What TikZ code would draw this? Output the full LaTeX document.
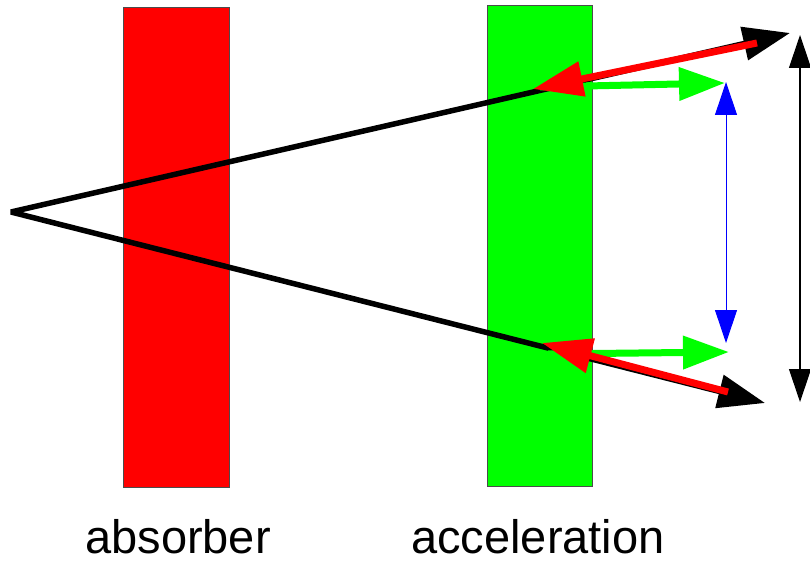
\documentclass[tikz,border=0pt]{standalone}
\usepackage{fontspec}
\setmainfont{Liberation Sans}
\usetikzlibrary{arrows.meta}
\definecolor{limeg}{RGB}{0,255,0}
\tikzset{
  slab/.style={draw=black!70, line width=0.8pt},
  ray/.style={line width=5.5pt, black},
  redarr/.style={red, line width=7pt, -{Triangle[length=50pt,width=34pt]}},
  greenarr/.style={limeg, line width=7pt, -{Triangle[length=46pt,width=32pt]}},
  bluearr/.style={blue, line width=1pt, {Triangle[length=33pt,width=22pt]}-{Triangle[length=33pt,width=22pt]}},
  blackdim/.style={black, line width=1.3pt, {Triangle[length=33pt,width=22pt]}-{Triangle[length=33pt,width=22pt]}},
  lbl/.style={font=\fontsize{47}{50}\selectfont, inner sep=0pt}
}
\begin{document}
\begin{tikzpicture}[x=1pt,y=-1pt]
\useasboundingbox (0,0) rectangle (810,561);
% slabs
\fill[red] (123,7) rectangle (229,487);
\draw[slab] (123,7) rectangle (229,487);
\fill[limeg] (487,5) rectangle (592,486);
\draw[slab] (487,5) rectangle (592,486);
% coordinates
\coordinate (v) at (11,212);
\coordinate (tu) at (790,33);
\coordinate (tl) at (765,403);
\coordinate (ru) at (757,43);
\coordinate (rut) at (533,89);
\coordinate (rl) at (728,392);
\coordinate (rlt) at (542,343);
\coordinate (gu) at (540,87);
\coordinate (gut) at (725,83);
\coordinate (gl) at (548,354);
\coordinate (glt) at (729,352);
\coordinate (bt) at (726,82);
\coordinate (bb) at (726,343);
\coordinate (kt) at (800,35);
\coordinate (kb) at (800,402);
% rays
\draw[ray, line join=bevel, {Triangle[length=47pt,width=33pt]}-{Triangle[length=47pt,width=33pt]}] (tu) -- (v) -- (tl);
% green arrows
\draw[greenarr] (gu) -- (gut);
\draw[greenarr] (gl) -- (glt);
% red arrows
\draw[redarr] (ru) -- (rut);
\draw[redarr] (rl) -- (rlt);
% dimension arrows
\draw[bluearr] (bt) -- (bb);
\draw[blackdim] (kt) -- (kb);
% labels
\node[lbl] (absorber) at (178,537) {absorber};
\node[lbl] (accel) at (538,537) {acceleration};
\end{tikzpicture}
\end{document}
